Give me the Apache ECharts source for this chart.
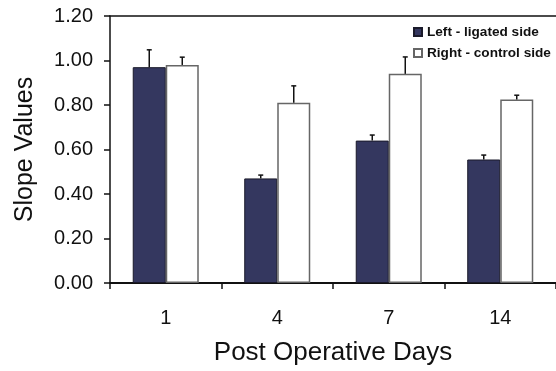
<!DOCTYPE html>
<html>
<head>
<meta charset="utf-8">
<script src="https://cdn.jsdelivr.net/npm/echarts@6/dist/echarts.min.js"></script>
<style>
  html, body { margin: 0; padding: 0; background: #fff; }
  #chart { width: 556px; height: 371px; }
</style>
</head>
<body>
<div id="chart"></div>
<script>
// 数据：术后天数与斜率均值 / 误差
const days = ['1', '4', '7', '14'];
const leftMean = [0.97, 0.47, 0.64, 0.555];
const leftErr = [0.078, 0.015, 0.025, 0.02];
const rightMean = [0.98, 0.81, 0.94, 0.825];
const rightErr = [0.035, 0.076, 0.076, 0.019];

const FONT = 'Liberation Sans, Arial, sans-serif';
const BAR_FRAC = 0.296; // 每根柱占类目宽度的比例

const chart = echarts.init(document.getElementById('chart'));

// 误差线数据：[类目索引, 均值, 误差, 系列序号]
const errData = [];
days.forEach((d, i) => {
    errData.push([i, leftMean[i], leftErr[i], 0]);
    errData.push([i, rightMean[i], rightErr[i], 1]);
});

function renderError(params, api) {
    const idx = api.value(0);
    const mean = api.value(1);
    const err = api.value(2);
    const side = api.value(3) === 0 ? -1 : 1;
    const band = api.size([1, 0])[0];
    const dx = side * band * BAR_FRAC / 2;
    const p0 = api.coord([idx, mean]);
    const p1 = api.coord([idx, mean + err]);
    const x = p0[0] + dx;
    const style = { stroke: '#111', lineWidth: 1.5 };
    return {
        type: 'group',
        children: [
            { type: 'line', shape: { x1: x, y1: p0[1], x2: x, y2: p1[1] }, style: style },
            { type: 'line', shape: { x1: x - 2.5, y1: p1[1], x2: x + 2.5, y2: p1[1] }, style: style }
        ]
    };
}

const option = {
    animation: false,
    textStyle: { fontFamily: FONT },
    grid: { left: 110, right: 0, top: 16, bottom: 86 },
    legend: {
        orient: 'vertical',
        left: 408,
        top: 20,
        itemWidth: 8,
        itemHeight: 8,
        itemGap: 7,
        icon: 'rect',
        textStyle: { fontFamily: FONT, fontSize: 13.6, fontWeight: 'bold', color: '#111' },
        data: ['Left - ligated side', 'Right - control side']
    },
    xAxis: [{
        type: 'category',
        data: days,
        position: 'bottom',
        axisLine: { lineStyle: { color: '#111', width: 2 } },
        axisTick: { show: true, length: 6, lineStyle: { color: '#111', width: 1.5 } },
        axisLabel: { fontSize: 20, color: '#111', margin: 25 },
        name: 'Post Operative Days',
        nameLocation: 'middle',
        nameGap: 57,
        nameTextStyle: { fontSize: 26, color: '#111' }
    }, {
        type: 'category',
        data: days,
        position: 'top',
        axisLine: { lineStyle: { color: '#111', width: 1.5 } },
        axisTick: { show: false },
        axisLabel: { show: false }
    }],
    yAxis: {
        type: 'value',
        min: 0,
        max: 1.2,
        interval: 0.2,
        axisLine: { show: true, lineStyle: { color: '#111', width: 1.5 } },
        axisTick: { show: true, length: 6, lineStyle: { color: '#111', width: 1.5 } },
        splitLine: { show: false },
        axisLabel: {
            fontSize: 20,
            color: '#111',
            margin: 17,
            formatter: v => v.toFixed(2)
        },
        name: 'Slope Values',
        nameLocation: 'middle',
        nameGap: 72,
        nameTextStyle: { fontSize: 25, color: '#111' }
    },
    series: [{
        name: 'Left - ligated side',
        type: 'bar',
        data: leftMean,
        barWidth: (BAR_FRAC * 100) + '%',
        barGap: '0%',
        itemStyle: { color: '#34375f', borderColor: '#1a1a2a', borderWidth: 1 }
    }, {
        name: 'Right - control side',
        type: 'bar',
        data: rightMean,
        barWidth: (BAR_FRAC * 100) + '%',
        barGap: '0%',
        itemStyle: { color: '#ffffff', borderColor: '#666', borderWidth: 1.5 }
    }, {
        name: 'error',
        type: 'custom',
        renderItem: renderError,
        data: errData,
        z: 5,
        encode: { x: 0, y: 1 }
    }]
};

chart.setOption(option);
</script>
</body>
</html>
